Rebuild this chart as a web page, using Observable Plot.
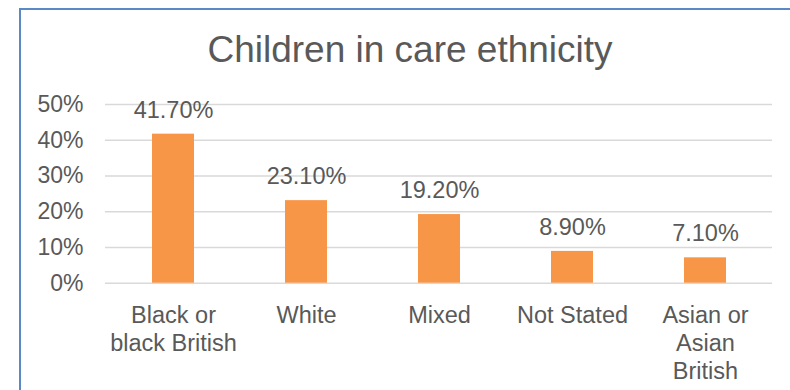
<!DOCTYPE html>
<html>
<head>
<meta charset="utf-8">
<script src="https://cdn.jsdelivr.net/npm/d3@7"></script>
<script src="https://cdn.jsdelivr.net/npm/@observablehq/plot@0.6"></script>
<style>
  html, body { margin: 0; padding: 0; background: #fff; overflow: hidden; }
  #wrap { position: relative; width: 790px; height: 390px; overflow: hidden; font-family: Arial, "Liberation Sans", sans-serif; }
  #frame { position: absolute; left: 19px; top: 8px; width: 800px; height: 400px; border: 2px solid #5A8AC6; pointer-events: none; }
  #title { box-sizing: border-box; width: 790px; height: 80px; padding-top: 28px; padding-left: 30px; text-align: center; font-size: 37px; line-height: 44px; color: #595959; white-space: nowrap; }
  #chart svg { display: block; }
</style>
</head>
<body>
<div id="wrap">
  <div id="title">Children in care ethnicity</div>
  <div id="chart"></div>
  <div id="frame"></div>
</div>
<script>
const categories = ["Black or\nblack British", "White", "Mixed", "Not Stated", "Asian or\nAsian\nBritish"];
const values = [0.417, 0.231, 0.192, 0.089, 0.071];
const yTicks = [0, 0.1, 0.2, 0.3, 0.4, 0.5];

const data = categories.map((c, i) => ({category: c, value: values[i]}));
const fmtTick = d3.format(".0%");
const fmtLabel = d3.format(".2%");

const chart = Plot.plot({
  width: 790,
  height: 310,
  marginLeft: 105,
  marginRight: 18,
  marginTop: 24,
  marginBottom: 107.3,
  style: {fontFamily: 'Arial, "Liberation Sans", sans-serif', fontSize: "23.5px", color: "#595959", background: "transparent", overflow: "visible"},
  x: {domain: categories, paddingInner: 0.685, paddingOuter: 0.3425, label: null},
  y: {domain: [0, 0.5], label: null},
  marks: [
    Plot.ruleY(yTicks, {stroke: "#D9D9D9", strokeWidth: 1.4}),
    Plot.barY(data, {x: "category", y: "value", fill: "#F79646"}),
    Plot.text(data, {x: "category", y: "value", text: d => fmtLabel(d.value), dy: -24, fill: "#595959", fontSize: 23.5}),
    Plot.axisY(yTicks, {tickFormat: fmtTick, tickSize: 0, tickPadding: 22, fontSize: 23, label: null}),
    Plot.axisX({tickSize: 0, tickPadding: 19.6, lineHeight: 1.19, fontSize: 23.5, label: null, textOverflow: null})
  ]
});
document.getElementById("chart").appendChild(chart);
</script>
</body>
</html>
